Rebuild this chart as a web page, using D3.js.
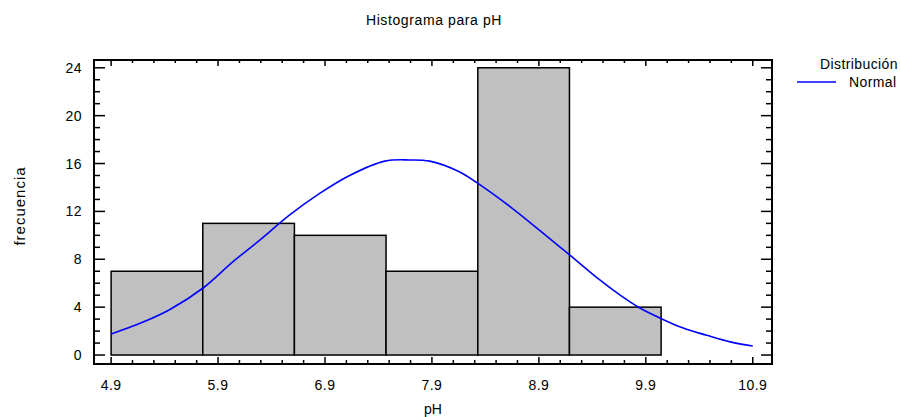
<!DOCTYPE html>
<html><head><meta charset="utf-8">
<script src="https://cdn.jsdelivr.net/npm/d3@7"></script>
<style>
body{margin:0;background:#fff;}
text{font-family:"Liberation Sans",Arial,sans-serif;fill:#000;}
</style></head>
<body><svg id="chart" width="901" height="417"></svg>
<script>
const binEdges = [4.9, 5.757, 6.614, 7.471, 8.329, 9.186, 10.043, 10.9];
const binCounts = [7, 11, 10, 7, 24, 4, 0];
const curveX = [4.9,5.2,5.45,5.76,6.04,6.29,6.57,6.85,7.13,7.46,7.69,7.88,8.16,8.32,8.63,8.91,9.19,9.47,9.66,9.84,10.03,10.25,10.47,10.69,10.9];
const curveY = [1.75,2.75,3.8,5.6,7.8,9.6,11.7,13.5,15.0,16.2,16.3,16.2,15.3,14.4,12.4,10.4,8.35,6.27,5.0,3.95,3.1,2.25,1.65,1.1,0.75];
const xTicks = [4.9,5.9,6.9,7.9,8.9,9.9,10.9];
const yTicks = [0,4,8,12,16,20,24];

const svg = d3.select("#chart");
const L=94, R=772, T=60, B=364;
const x = d3.scaleLinear().domain([4.74, 11.08]).range([L, R]);
const y = d3.scaleLinear().domain([-0.75, 24.65]).range([B, T]);

// bars
const bins = binCounts.map((c,i)=>({x0:binEdges[i], x1:binEdges[i+1], c}));
svg.append("g").selectAll("rect").data(bins).join("rect")
  .attr("x", d=>x(d.x0)).attr("y", d=>y(d.c))
  .attr("width", d=>x(d.x1)-x(d.x0)).attr("height", d=>y(0)-y(d.c))
  .attr("fill","#c0c0c0").attr("stroke","#000").attr("stroke-width",1.5);

// curve
const pts = curveX.map((v,i)=>[v, curveY[i]]);
svg.append("path").datum(pts)
  .attr("d", d3.line().x(d=>x(d[0])).y(d=>y(d[1])).curve(d3.curveCatmullRom))
  .attr("fill","none").attr("stroke","#0000ff").attr("stroke-width",1.6);

// frame
svg.append("rect").attr("x",L).attr("y",T).attr("width",R-L).attr("height",B-T)
  .attr("fill","none").attr("stroke","#000").attr("stroke-width",2);

// ticks
const xMinor = d3.range(0,31).map(i=>4.9+i*0.2).filter(v=>v<=10.9001);
const yMinor = d3.range(0,25);
const tg = svg.append("g").attr("stroke","#000").attr("stroke-width",1.5);
xMinor.forEach((v,i)=>{
  const major = (i%5===0);
  tg.append("line").attr("x1",x(v)).attr("x2",x(v)).attr("y1",B).attr("y2",B-(major?7:4));
  tg.append("line").attr("x1",x(v)).attr("x2",x(v)).attr("y1",T).attr("y2",T+(major?6:3));
});
yMinor.forEach(v=>{
  const len = (v%4===0)?11:6;
  tg.append("line").attr("x1",L).attr("x2",L+len).attr("y1",y(v)).attr("y2",y(v));
  tg.append("line").attr("x1",R).attr("x2",R-len).attr("y1",y(v)).attr("y2",y(v));
});

// tick labels
svg.append("g").selectAll("text").data(xTicks).join("text")
  .attr("x", d=>x(d)).attr("y", 390).attr("text-anchor","middle")
  .attr("font-size",14).attr("letter-spacing",0.5).text(d=>d.toFixed(1));
svg.append("g").selectAll("text").data(yTicks).join("text")
  .attr("x", 82).attr("y", d=>y(d)+5).attr("text-anchor","end")
  .attr("font-size",14).attr("letter-spacing",0.5).text(d=>d);

// titles
svg.append("text").attr("x",434).attr("y",25).attr("text-anchor","middle")
  .attr("font-size",14).attr("letter-spacing",0.6).text("Histograma para pH");
svg.append("text").attr("x",433).attr("y",414).attr("text-anchor","middle")
  .attr("font-size",14).text("pH");
svg.append("text").attr("transform","translate(25,206) rotate(-90)").attr("text-anchor","middle")
  .attr("font-size",15).attr("letter-spacing",1).text("frecuencia");

// legend
svg.append("text").attr("x",898).attr("y",69).attr("text-anchor","end")
  .attr("font-size",14).attr("letter-spacing",0.4).text("Distribución");
svg.append("line").attr("x1",797).attr("x2",836).attr("y1",82).attr("y2",82)
  .attr("stroke","#0000ff").attr("stroke-width",1.6);
svg.append("text").attr("x",849).attr("y",87).attr("font-size",14).attr("letter-spacing",0.4).text("Normal");
</script></body></html>
